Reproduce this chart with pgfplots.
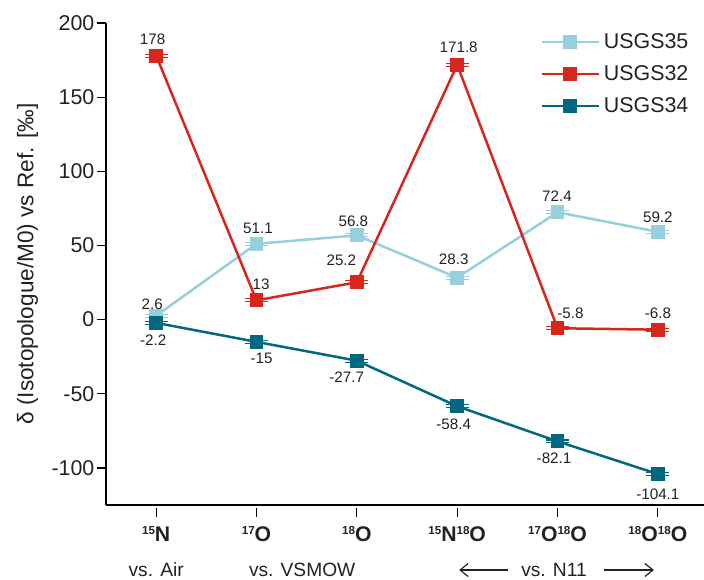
\documentclass[border=0pt]{standalone}
\usepackage{pgfplots}
\pgfplotsset{compat=1.18}
\usepackage{pgfplotstable}
\usepackage{fontspec}
\setmainfont{Liberation Sans}
\usetikzlibrary{arrows.meta}

\definecolor{c35}{HTML}{96D0DC}
\definecolor{c32}{HTML}{D9261C}
\definecolor{c34}{HTML}{006880}
\definecolor{txt}{HTML}{222222}

% isotope label: small raised mass number followed by the element
\newcommand\iso[2]{{\fontsize{5.8}{6}\selectfont\raisebox{3.4pt}{#1}}#2}

% x: isotopologue index, y: delta value, e: error, lab: printed value, dx/dy: label offset (pt)
\pgfplotstableread{
x y e lab dx dy
0 2.6 1 2.6 -2 5.9
1 51.1 1 51.1 0.75 7.8
2 56.8 1 56.8 -1.75 7.25
3 28.3 1 28.3 -1.75 9.3
4 72.4 1 72.4 -0.25 7.85
5 59.2 1 59.2 0 7.15
}\tabA
\pgfplotstableread{
x y e lab dx dy
0 178 1 178 -1.75 8
1 13 1 13 2.25 8.15
2 25.2 1 25.2 -7.75 11.1
3 171.8 1 171.8 0.75 8.75
4 -5.8 1 -5.8 6.5 7.65
5 -6.8 1 -6.8 0 8.4
}\tabB
\pgfplotstableread{
x y e lab dx dy
0 -2.2 1 -2.2 -1.5 -8.5
1 -15 1 -15 2.5 -8.35
2 -27.7 1 -27.7 -5.1 -8.45
3 -58.4 1 -58.4 -1.75 -9.1
4 -82.1 1 -82.1 -1.75 -8.3
5 -104.1 1 -104.1 0 -10.1
}\tabC

\pgfplotsset{
  series/.style={
    color=#1, line width=1.25pt,
    mark=square*, mark size=3.2pt,
    mark options={solid, line width=0.5pt, fill=#1},
    error bars/.cd, y dir=both, y explicit, error mark=|,
      error bar style={line width=0.6pt, #1},
      error mark options={line width=0.6pt, mark size=5.75pt, #1},
    /pgfplots/.cd,
    nodes near coords,
    point meta=explicit symbolic,
    visualization depends on={\thisrow{dx} \as \ldx},
    visualization depends on={\thisrow{dy} \as \ldy},
    every node near coord/.append style={
      anchor=center, inner sep=0pt, text=txt,
      font=\fontsize{7.6}{9}\selectfont,
      xshift=\ldx pt, yshift=\ldy pt},
  },
}

\begin{document}
\begin{tikzpicture}
\path[use as bounding box] (-53pt,-37pt) rectangle (299pt,252.5pt);
\begin{axis}[
  width=300pt, height=241pt, scale only axis,
  xmin=-0.5, xmax=5.48, ymin=-125, ymax=200,
  axis lines=left,
  axis line style={line width=0.7pt, black, -},
  clip=false,
  tick align=outside,
  major tick length=4.6pt,
  tick style={line width=0.6pt, black},
  xtick style={yshift=-1.3pt},
  ytick={-100,-50,0,50,100,150,200},
  yticklabels={-100,-50,0,50,100,150,200},
  yticklabel style={font=\fontsize{10.7}{12}\selectfont, text=txt, anchor=east, inner sep=0pt, xshift=-1pt},
  xtick={0,1,2,3,4,5},
  xticklabels={\iso{15}{N},\iso{17}{O},\iso{18}{O},\iso{15}{N}\iso{18}{O},\iso{17}{O}\iso{18}{O},\iso{18}{O}\iso{18}{O}},
  xticklabel style={font=\bfseries\fontsize{10.6}{12}\selectfont, text=txt, anchor=base, inner sep=0pt, yshift=-13.6pt},
  ylabel={δ (Isotopologue/M0) vs Ref. [‰]},
  ylabel style={at={(axis description cs:-0.1308,0.5)}, anchor=center, rotate=0,
    font=\fontsize{11.3}{13}\selectfont, text=txt},
  legend style={at={(0.7233,0.988)}, anchor=north west, draw=none, fill=none,
    inner sep=0pt, row sep=3pt, font=\fontsize{10.7}{13}\selectfont, text=txt,
    legend cell align=left},
  legend image code/.code={
    \draw[mark repeat=2, mark phase=2, #1] plot coordinates {(0pt,0pt) (14.25pt,0pt) (28.5pt,0pt)};},
]
\addplot[series=c35] table[x=x, y=y, y error=e, meta=lab]{\tabA};
\addlegendentry{USGS35}
\addplot[series=c32] table[x=x, y=y, y error=e, meta=lab]{\tabB};
\addlegendentry{USGS32}
\addplot[series=c34] table[x=x, y=y, y error=e, meta=lab]{\tabC};
\addlegendentry{USGS34}

% reference scales under the isotopologue names
\begin{scope}[font=\fontsize{9.6}{11}\selectfont, text=txt]
\node[anchor=base] at ([yshift=-35.8pt]axis cs:0,-125) {vs. Air};
\node[anchor=base] at ([yshift=-35.8pt]axis cs:1.455,-125) {vs. VSMOW};
\node[anchor=base] at ([yshift=-35.8pt]axis cs:3.965,-125) {vs. N11};
\end{scope}
\draw[txt, line width=0.6pt, -{Straight Barb[length=4pt, width=6.5pt]}]
  ([yshift=-32.5pt]axis cs:3.51,-125) -- ([yshift=-32.5pt]axis cs:3.02,-125);
\draw[txt, line width=0.6pt, -{Straight Barb[length=4pt, width=6.5pt]}]
  ([yshift=-32.5pt]axis cs:4.46,-125) -- ([yshift=-32.5pt]axis cs:4.96,-125);
\end{axis}
\end{tikzpicture}
\end{document}
